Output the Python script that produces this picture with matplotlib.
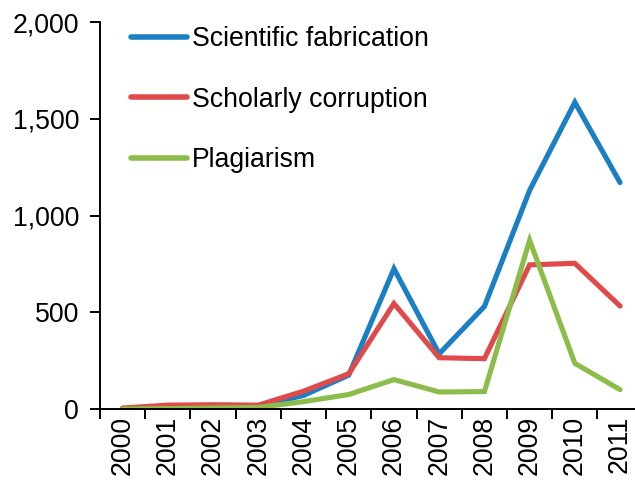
import matplotlib
matplotlib.use("Agg")
import matplotlib.pyplot as plt
from matplotlib.ticker import FuncFormatter, FixedLocator

plt.rcParams["font.family"] = ["Liberation Sans", "DejaVu Sans"]

years = ["2000", "2001", "2002", "2003", "2004", "2005",
         "2006", "2007", "2008", "2009", "2010", "2011"]
fabrication = [3, 8, 12, 15, 70, 175, 725, 285, 530, 1130, 1585, 1170]
corruption = [5, 20, 22, 20, 92, 182, 545, 265, 260, 745, 753, 532]
plagiarism = [0, 2, 5, 8, 38, 75, 152, 88, 90, 872, 236, 100]

BLUE, RED, GREEN = "#1b7fc4", "#e04a4b", "#8cbd4a"
FS = 19.2

fig = plt.figure(figsize=(6.35, 4.87), dpi=100)
ax = fig.add_axes([100 / 635, 1 - 409 / 487, 535 / 635, (409 - 22) / 487])

x = list(range(len(years)))
lw = 3.7
ax.plot(x, fabrication, color=BLUE, lw=lw, label="Scientific fabrication",
        solid_capstyle="round", solid_joinstyle="miter")
ax.plot(x, corruption, color=RED, lw=lw, label="Scholarly corruption",
        solid_capstyle="round", solid_joinstyle="miter")
ax.plot(x, plagiarism, color=GREEN, lw=lw, label="Plagiarism",
        solid_capstyle="round", solid_joinstyle="miter")

ax.set_ylim(0, 2000)
ax.set_xlim(-0.5, 11.33)
ax.set_yticks([0, 500, 1000, 1500, 2000])
ax.yaxis.set_major_formatter(FuncFormatter(lambda v, _: f"{v:,.0f}"))

ax.set_xticks(x)
ax.set_xticklabels(years, rotation=90)
ax.xaxis.set_minor_locator(FixedLocator([i - 0.5 for i in range(len(years))]))
ax.tick_params(axis="x", which="major", length=0, pad=5, labelsize=FS)
ax.tick_params(axis="x", which="minor", length=7, width=1.4, direction="out")
ax.tick_params(axis="y", length=7, width=1.4, labelsize=FS, pad=8)

for s in ("top", "right"):
    ax.spines[s].set_visible(False)
for s in ("left", "bottom"):
    ax.spines[s].set_linewidth(1.4)
ax.spines["left"].set_zorder(0)

leg = ax.legend(loc="upper left", bbox_to_anchor=(0.058, 0.99), frameon=False,
                fontsize=FS, handlelength=2.1, handletextpad=0.2,
                labelspacing=1.3, borderpad=0, borderaxespad=0)
for h in leg.get_lines():
    h.set_linewidth(4)
    h.set_solid_capstyle("round")

fig.savefig("out.png", dpi=100)
